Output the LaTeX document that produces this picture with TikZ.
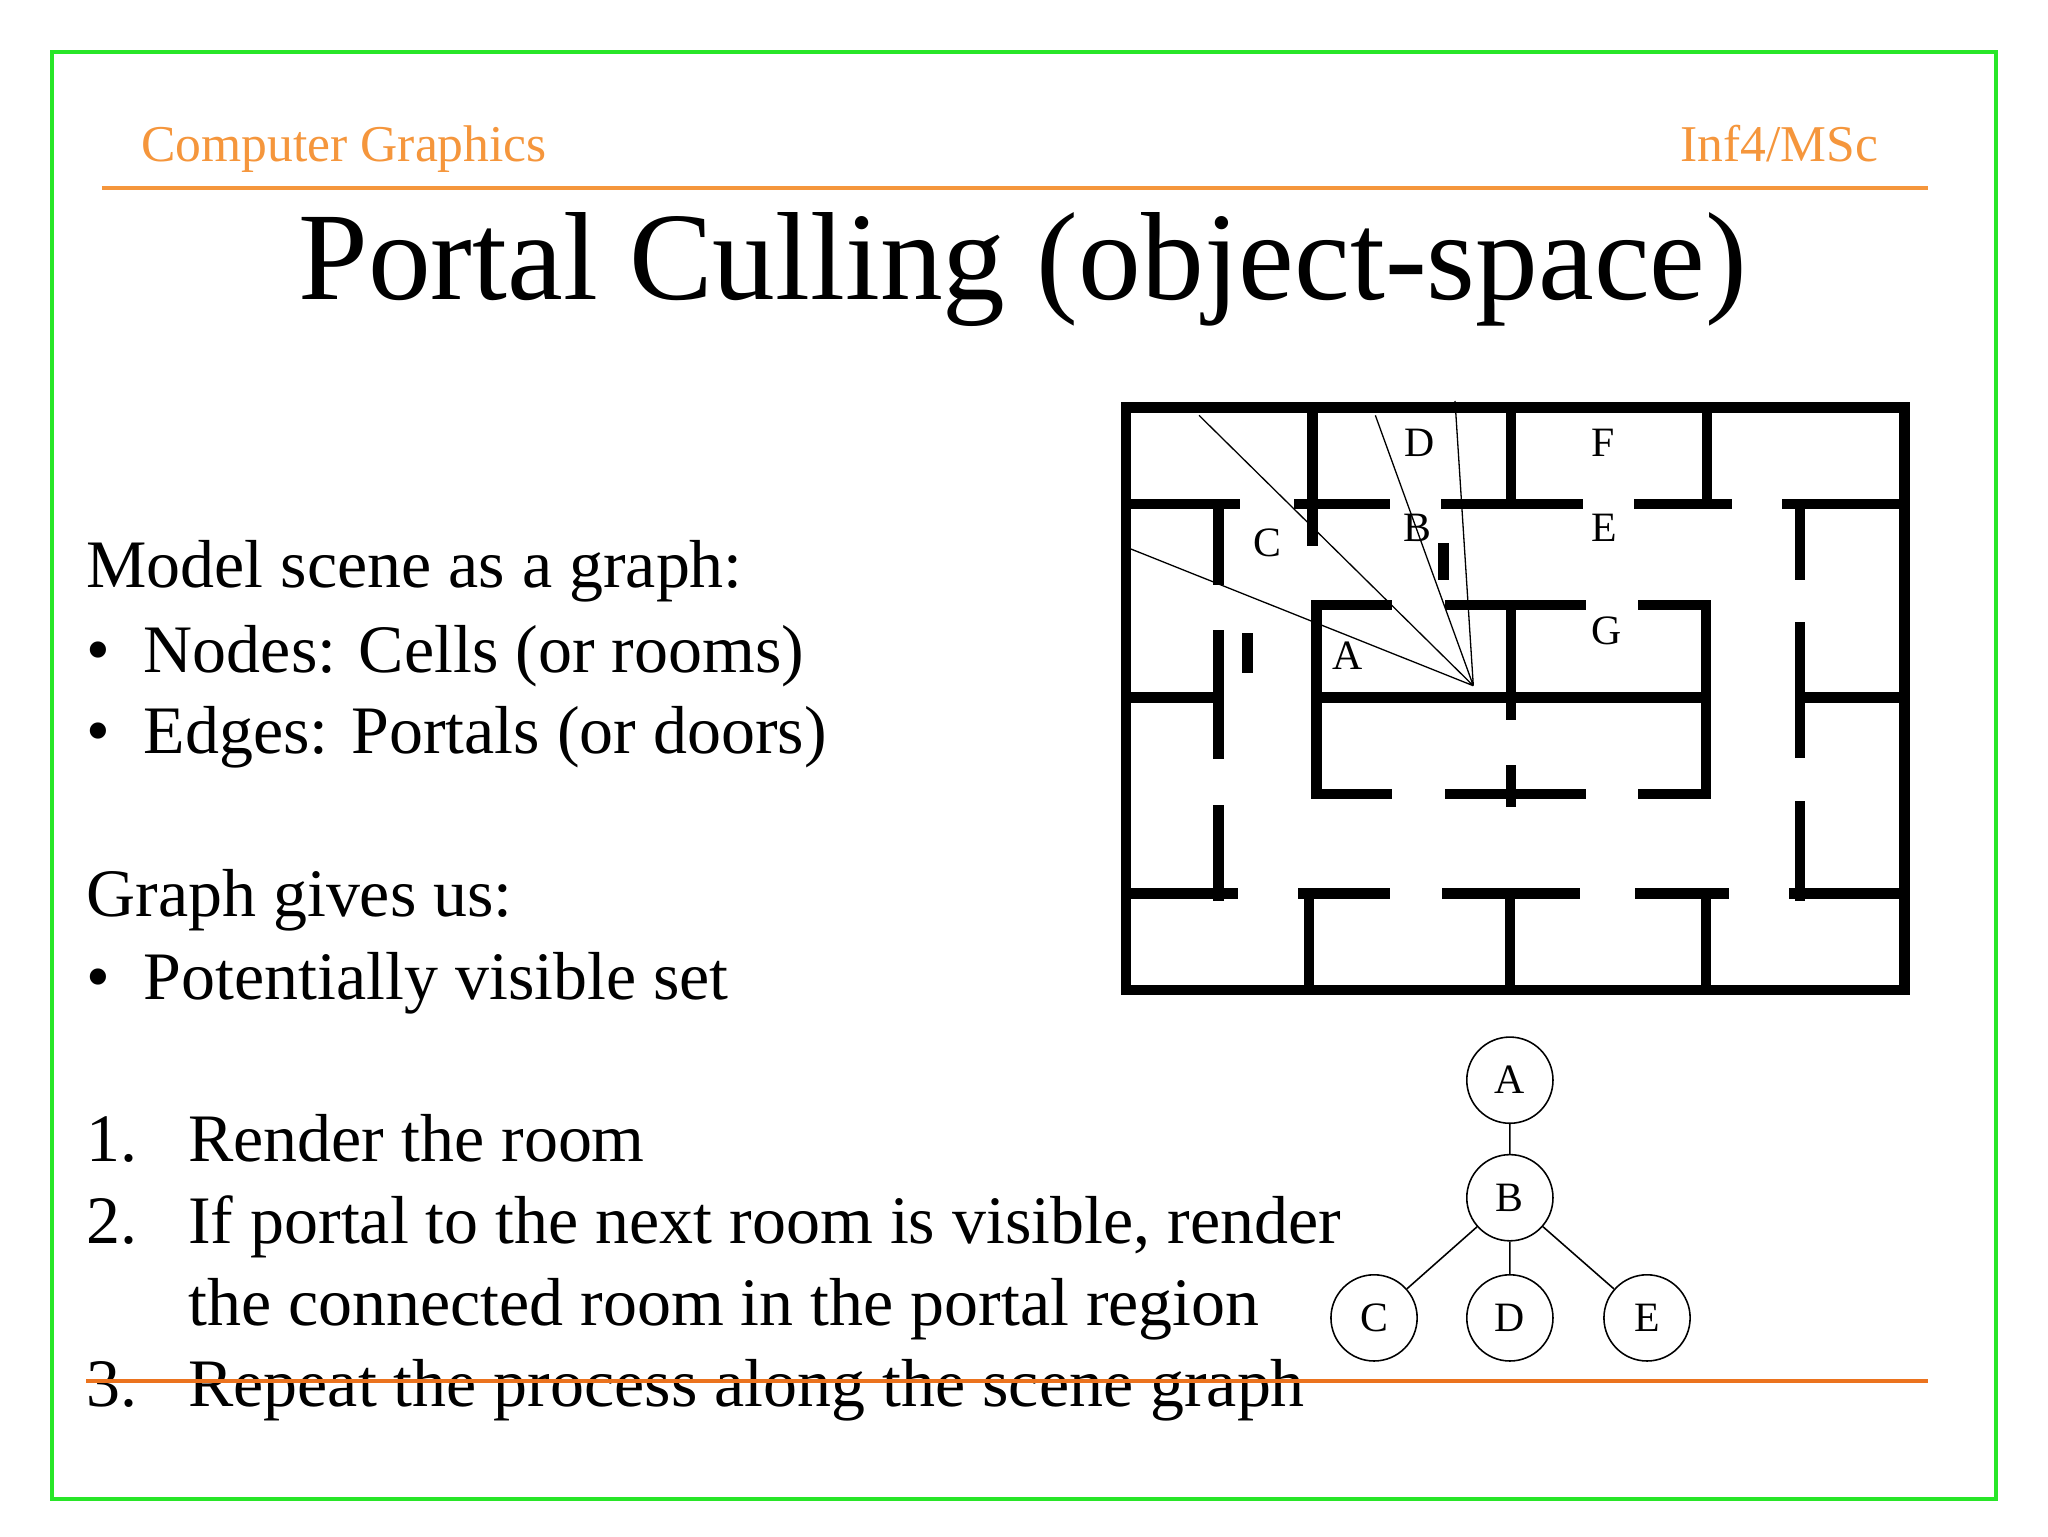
\documentclass[tikz,border=0pt]{standalone}
\usepackage{fontspec}
\setmainfont{Liberation Serif}
\definecolor{grn}{RGB}{40,230,40}
\definecolor{org}{RGB}{245,150,60}
\definecolor{org2}{RGB}{235,115,30}
\begin{document}
\begin{tikzpicture}[x=1pt,y=-1pt,
  wall/.style={line width=8pt,line cap=rect},
  ray/.style={line width=1pt},
  lbl/.style={font=\fontsize{32}{36}\selectfont},
  tnode/.style={circle,draw,line width=1.2pt,minimum size=66pt,inner sep=0pt,font=\fontsize{32}{36}\selectfont},
  body/.style={anchor=base west,font=\fontsize{52}{60}\selectfont,inner sep=0pt}]
\useasboundingbox (0,0) rectangle (1568,1176);
\fill[white] (0,0) rectangle (1568,1176);
\draw[grn,line width=3pt] (40,40) rectangle (1528,1148);
\draw[org,line width=3pt] (78,144) -- (1476,144);
\node[anchor=base west,inner sep=0pt,text=org,font=\fontsize{39.5}{44}\selectfont] (h1) at (108,124) {Computer Graphics};
\node[anchor=base east,inner sep=0pt,text=org,font=\fontsize{39.5}{44}\selectfont] (h2) at (1438,124) {Inf4/MSc};
\node[anchor=base,inner sep=0pt,font=\fontsize{96}{110}\selectfont] (title) at (783,229) {Portal Culling (object-space)};
% body text
\node[body] (t1) at (66,450) {Model scene as a graph:};
\node[body] (b1) at (66,515) {•};
\node[body] (t2) at (110,515) {Nodes: Cells (or rooms)};
\node[body] (b2) at (66,577) {•};
\node[body] (t3) at (110,577) {Edges: Portals (or doors)};
\node[body] (t4) at (66,702) {Graph gives us:};
\node[body] (b3) at (66,765) {•};
\node[body] (t5) at (110,765) {Potentially visible set};
\node[body] (n1) at (66,889) {1.};
\node[body] (t6) at (144,889) {Render the room};
\node[body] (n2) at (66,952) {2.};
\node[body] (t7) at (144,952) {If portal to the next room is visible, render};
\node[body] (t8) at (144,1015) {the connected room in the portal region};
\node[body] (n3) at (66,1077) {3.};
\node[body] (t9) at (144,1077) {Repeat the process along the scene graph};
\draw[org2,line width=3pt] (66,1057) -- (1476,1057);
% floor plan
\draw[wall,line cap=butt] (862,312) rectangle (1458,758);
\draw[wall] (866,386)--(945,386) (995,386)--(1060,386) (1107,386)--(1208,386) (1255,386)--(1322,386) (1368,386)--(1454,386);
\draw[wall] (1005,316)--(1005,386) (1157,316)--(1157,386) (1307,316)--(1307,386);
\draw[wall] (1005,386)--(1005,414) (1105,420)--(1105,440) (955,489)--(955,511);
\draw[wall] (933,386)--(933,444) (933,486)--(933,577) (933,620)--(933,686);
\draw[wall] (866,534)--(933,534) (1380,534)--(1454,534);
\draw[wall] (1062,463)--(1008,463)--(1008,608)--(1062,608);
\draw[wall] (1110,463)--(1210,463) (1110,608)--(1210,608);
\draw[wall] (1258,463)--(1306,463)--(1306,608)--(1258,608);
\draw[wall] (1008,534)--(1306,534);
\draw[wall] (1157,463)--(1157,547) (1157,590)--(1157,614);
\draw[wall] (1378,390)--(1378,440) (1378,480)--(1378,576) (1378,617)--(1378,686);
\draw[wall] (866,684)--(944,684) (998,684)--(1060,684) (1108,684)--(1206,684) (1256,684)--(1320,684) (1374,684)--(1454,684);
\draw[wall] (1002,684)--(1002,754) (1156,684)--(1156,754) (1306,684)--(1306,754);
\coordinate (eye) at (1128,525);
\coordinate (r1) at (860,418);
\coordinate (r2) at (918,318);
\coordinate (r3) at (1053,318);
\coordinate (r4) at (1114,307);
\draw[ray] (eye)--(r1) (eye)--(r2) (eye)--(r3) (eye)--(r4);
\node[lbl] (lD) at (1087,339) {D};
\node[lbl] (lF) at (1227,339) {F};
\node[lbl] (lC) at (970,416) {C};
\node[lbl] (lB) at (1085,404) {B};
\node[lbl] (lE) at (1228,404) {E};
\node[lbl] (lG) at (1230,483) {G};
\node[lbl] (lA) at (1032,502) {A};
% tree
\node[tnode] (A) at (1156,827) {A};
\node[tnode] (B) at (1156,917) {B};
\node[tnode] (C) at (1052,1009) {C};
\node[tnode] (D) at (1156,1009) {D};
\node[tnode] (E) at (1261,1009) {E};
\draw[line width=1.2pt] (A)--(B) (B)--(C) (B)--(D) (B)--(E);
\end{tikzpicture}
\end{document}
